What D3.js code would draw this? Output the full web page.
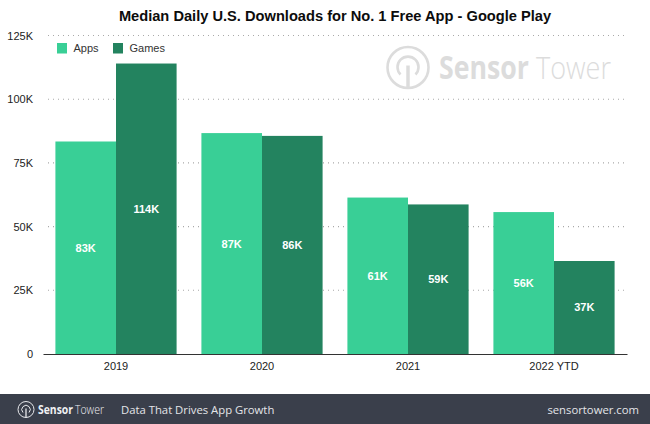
<!DOCTYPE html>
<html>
<head>
<meta charset="utf-8">
<script src="https://d3js.org/d3.v7.min.js"></script>
<style>
html, body {margin:0; padding:0; background:#fff;}
svg {display:block;}
text {font-family:"Liberation Sans", Arial, sans-serif;}
.brand {font-family:"Open Sans", sans-serif;}
</style>
</head>
<body>
<svg width="650" height="424"></svg>
<script>
var years = ['2019','2020','2021','2022 YTD'];
var seriesNames = ['Apps','Games'];
var apps = [83.4,86.7,61.4,55.7];
var games = [114,85.6,58.7,36.5];
var appLabels = ['83K','87K','61K','56K'];
var gameLabels = ['114K','86K','59K','37K'];
var yTicks = [0,25,50,75,100,125];
var colors = ['#39cf96','#23835f'];

var svg = d3.select('svg');
var plotLeft = 43, plotRight = 627, plotTop = 35.5, plotBottom = 354;

var xs = d3.scaleBand().domain(years).range([plotLeft,plotRight]).paddingInner(0.17).paddingOuter(0.085);
var inner = d3.scaleBand().domain(seriesNames).range([0,xs.bandwidth()]);
var ys = d3.scaleLinear().domain([0,125]).range([plotBottom,plotTop]);

// squeeze the logo words to their width, the logo font is narrower than Open Sans
function brandText(txt,x,y,size,weight,width,fill){
  var t = svg.append('text').attr('class','brand').attr('font-size',size).attr('font-weight',weight).attr('fill',fill).text(txt);
  var k = width/t.node().getComputedTextLength();
  t.attr('transform','translate('+x+','+y+') scale('+k+',1)');
}

svg.append('text').attr('x',335).attr('y',20.5).attr('text-anchor','middle')
  .attr('font-size',14.65).attr('font-weight','bold').attr('fill','#0c0c0c')
  .text('Median Daily U.S. Downloads for No. 1 Free App - Google Play');

// gridlines
svg.append('g').selectAll('line').data(yTicks.slice(1)).enter().append('line')
  .attr('x1',48).attr('x2',plotRight-1)
  .attr('y1',function(d){return ys(d);}).attr('y2',function(d){return ys(d);})
  .attr('stroke','#a9a9a9').attr('stroke-width',1.1).attr('stroke-dasharray','1 4');

// watermark
var mark = svg.append('g').attr('transform','translate(408,67.5)').attr('fill','none').attr('stroke','#dcdcdc').attr('stroke-width',2.6);
mark.append('circle').attr('r',20.5);
mark.append('path').attr('d','M-7.5,7 A10.5,10.5 0 1 1 7.5,7');
mark.append('line').attr('y1',-2).attr('y2',20).attr('stroke-width',3.5);
brandText('Sensor',439,79,32,'bold',90,'#dcdcdc');
brandText('Tower',536,79,32,'300',75,'#dcdcdc');

// bars
var groups = [apps,games];
var labels = [appLabels,gameLabels];
groups.forEach(function(vals,s){
  var g = svg.append('g');
  g.selectAll('rect').data(vals).enter().append('rect')
    .attr('x',function(d,i){return xs(years[i])+inner(seriesNames[s]);})
    .attr('y',function(d){return ys(d);})
    .attr('width',inner.bandwidth())
    .attr('height',function(d){return ys(0)-ys(d);})
    .attr('fill',colors[s]);
  g.selectAll('text').data(vals).enter().append('text')
    .attr('x',function(d,i){return xs(years[i])+inner(seriesNames[s])+inner.bandwidth()/2;})
    .attr('y',function(d){return (ys(d)+ys(0))/2+4;})
    .attr('text-anchor','middle').attr('font-size',11).attr('font-weight','bold').attr('fill','#fff')
    .text(function(d,i){return labels[s][i];});
});

// axes
var axisY = d3.axisLeft(ys).tickValues(yTicks).tickSize(0).tickPadding(0)
  .tickFormat(function(d){return d===0?'0':d+'K';});
var gy = svg.append('g').attr('transform','translate(33,0)').call(axisY);
gy.select('.domain').remove();
gy.selectAll('text').attr('font-size',11).attr('fill','#222').style('font-family','"Liberation Sans", Arial, sans-serif');

var axisX = d3.axisBottom(xs).tickSize(0).tickPadding(8);
var gx = svg.append('g').attr('transform','translate(0,'+plotBottom+')').call(axisX);
gx.select('.domain').attr('stroke','#333').attr('stroke-width',1.2);
gx.selectAll('text').attr('font-size',11).attr('fill','#222').style('font-family','"Liberation Sans", Arial, sans-serif');

// legend
var legend = svg.append('g').selectAll('g').data(seriesNames).enter().append('g')
  .attr('transform',function(d,i){return 'translate('+[57,113][i]+',43)';});
legend.append('rect').attr('width',10).attr('height',10.5).attr('fill',function(d,i){return colors[i];});
legend.append('text').attr('x',16.5).attr('y',9).attr('font-size',11).attr('fill','#333').text(function(d){return d;});

// footer
svg.append('rect').attr('x',0).attr('y',394).attr('width',650).attr('height',30).attr('fill','#3a3f4b');
var fm = svg.append('g').attr('transform','translate(26,409.5)').attr('fill','none').attr('stroke','#e8e9ec').attr('stroke-width',1);
fm.append('circle').attr('r',8);
fm.append('path').attr('d','M-3,3 A4.2,4.2 0 1 1 3,3');
fm.append('line').attr('y1',-1).attr('y2',8).attr('stroke-width',1.3);
brandText('Sensor',38,414,12.6,'bold',35,'#f0f1f3');
brandText('Tower',75,414,12.6,'300',29,'#f0f1f3');
svg.append('text').attr('class','brand').attr('x',121).attr('y',414).attr('font-size',11.3).attr('fill','#e4e5e9').text('Data That Drives App Growth');
svg.append('text').attr('class','brand').attr('x',639).attr('y',414).attr('text-anchor','end').attr('font-size',11.3).attr('fill','#e4e5e9').text('sensortower.com');
</script>
</body>
</html>
